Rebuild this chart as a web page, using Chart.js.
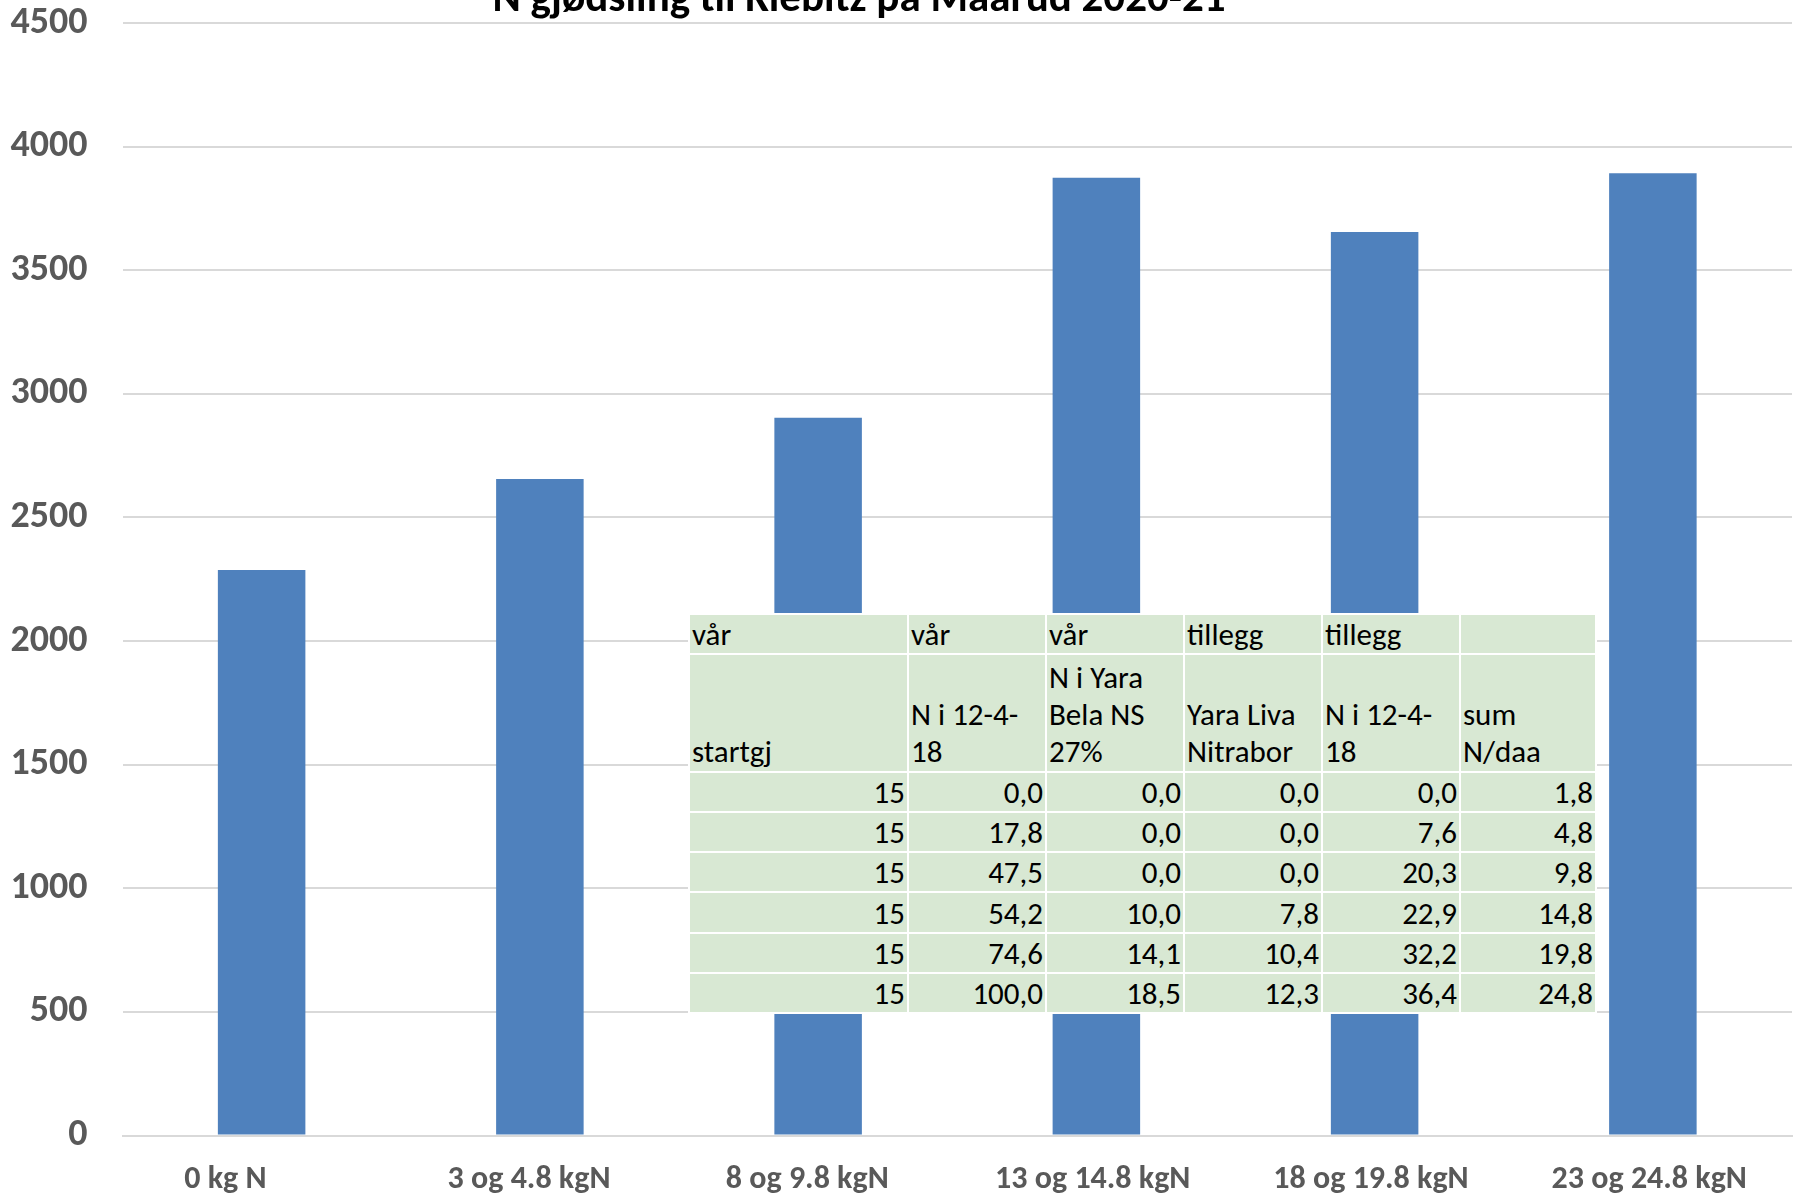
<!DOCTYPE html>
<html lang="no">
<head>
<meta charset="utf-8">
<title>N gjødsling til Kiebitz på Maarud 2020-21</title>
<script src="https://cdn.jsdelivr.net/npm/chart.js@4/dist/chart.umd.min.js"></script>
<style>
  html, body { margin: 0; padding: 0; background: #ffffff; }
  #wrap { position: relative; width: 1799px; height: 1194px; overflow: hidden; }
  #chart { position: absolute; left: 0; top: 0; }
  #gjodsel {
    position: absolute; left: 688px; top: 613px; width: 909px; height: 401px;
    border-collapse: separate; border-spacing: 2px; background: #ffffff;
    font-family: Carlito, Lato, "Open Sans", sans-serif; font-size: 31px; color: #000;
    table-layout: fixed;
  }
  #gjodsel td {
    background: #d8e8d3; padding: 0 2px 1px 2px; white-space: nowrap; overflow: hidden;
    vertical-align: bottom; line-height: 36px; box-sizing: border-box;
  }
  #gjodsel tr.head td { line-height: 37px; }
  #gjodsel td.num { text-align: right; }
</style>
</head>
<body>
<div id="wrap">
  <canvas id="chart" width="1799" height="1194"></canvas>
  <table id="gjodsel"></table>
</div>
<script>
// Avling per gjødslingsnivå (kategorinavnene har etterfølgende mellomrom slik de står i regnearket)
const categories = ['0 kg N          ', '3 og 4.8 kgN   ', '8 og 9.8 kgN   ', '13 og 14.8 kgN ', '18 og 19.8 kgN ', '23 og 24.8 kgN '];
const yieldValues = [2287, 2656, 2903, 3874, 3655, 3892];
const yTicks = [0, 500, 1000, 1500, 2000, 2500, 3000, 3500, 4000, 4500];
const chartTitle = 'N gjødsling til Kiebitz på Maarud 2020-21';

// Gjødslingsplan (tabell)
const tableGroupRow = ['vår', 'vår', 'vår', 'tillegg', 'tillegg', ''];
const tableHeadRow = [['startgj'], ['N i 12-4-', '18'], ['N i Yara', 'Bela NS', '27%'], ['Yara Liva', 'Nitrabor'], ['N i 12-4-', '18'], ['sum', 'N/daa']];
const startgj = [15, 15, 15, 15, 15, 15];
const varN12418 = [0.0, 17.8, 47.5, 54.2, 74.6, 100.0];
const varYaraBela = [0.0, 0.0, 0.0, 10.0, 14.1, 18.5];
const tilleggYaraLiva = [0.0, 0.0, 0.0, 7.8, 10.4, 12.3];
const tilleggN12418 = [0.0, 7.6, 20.3, 22.9, 32.2, 36.4];
const sumNdaa = [1.8, 4.8, 9.8, 14.8, 19.8, 24.8];

const tickFont = { family: 'Carlito, Lato, "Open Sans", sans-serif', weight: 'bold' };

// Tittel som ligger delvis over lerretets øvre kant
const titlePlugin = {
  id: 'topTitle',
  afterDraw(chart) {
    const ctx = chart.ctx;
    ctx.save();
    ctx.font = 'bold 43px Carlito, Lato, "Open Sans", sans-serif';
    ctx.fillStyle = '#000000';
    ctx.textAlign = 'center';
    ctx.textBaseline = 'alphabetic';
    ctx.fillText(chartTitle, 859, 11);
    ctx.restore();
  }
};

new Chart(document.getElementById('chart'), {
  type: 'bar',
  data: {
    labels: categories,
    datasets: [{
      data: yieldValues,
      backgroundColor: '#4f81bd',
      borderWidth: 0,
      categoryPercentage: 1,
      barPercentage: 0.3145
    }]
  },
  options: {
    responsive: false,
    animation: false,
    devicePixelRatio: 1,
    layout: { padding: { top: 23, right: 7, left: 0, bottom: 0 } },
    plugins: { legend: { display: false }, tooltip: { enabled: false }, title: { display: false } },
    scales: {
      x: {
        grid: { display: false, drawTicks: false },
        border: { display: true, color: '#d9d9d9', width: 2 },
        ticks: { color: '#595959', font: { ...tickFont, size: 32 }, padding: 25, maxRotation: 0, autoSkip: false },
        afterFit(scale) { scale.height = 58.5; scale.paddingLeft = 0; scale.paddingRight = 0; }
      },
      y: {
        min: 0, max: 4500,
        afterBuildTicks(scale) { scale.ticks = yTicks.map(v => ({ value: v })); },
        grid: { color: '#d9d9d9', lineWidth: 2, drawTicks: false },
        border: { display: false },
        ticks: { color: '#595959', font: { ...tickFont, size: 38 }, padding: 35, callback: v => String(v) },
        afterFit(scale) { scale.width = 122.5; scale.paddingTop = 0; scale.paddingBottom = 0; }
      }
    }
  },
  plugins: [titlePlugin]
});

// Tabellen bygges fra kolonnene over
const fmt = v => v.toFixed(1).replace('.', ',');
const table = document.getElementById('gjodsel');
const colWidths = [217, 136, 136, 136, 136, 134];
const cg = document.createElement('colgroup');
colWidths.forEach(w => { const c = document.createElement('col'); c.style.width = w + 'px'; cg.appendChild(c); });
table.appendChild(cg);

const r1 = table.insertRow();
r1.style.height = '38px';
tableGroupRow.forEach(t => { const td = r1.insertCell(); td.textContent = t; });
const r2 = table.insertRow();
r2.className = 'head';
r2.style.height = '115px';
tableHeadRow.forEach(lines => {
  const td = r2.insertCell();
  lines.forEach((l, i) => { if (i) td.appendChild(document.createElement('br')); td.appendChild(document.createTextNode(l)); });
});
for (let i = 0; i < startgj.length; i++) {
  const r = table.insertRow();
  r.style.height = '38px';
  [String(startgj[i]), fmt(varN12418[i]), fmt(varYaraBela[i]), fmt(tilleggYaraLiva[i]), fmt(tilleggN12418[i]), fmt(sumNdaa[i])]
    .forEach(t => { const td = r.insertCell(); td.className = 'num'; td.textContent = t; });
}
</script>
</body>
</html>
